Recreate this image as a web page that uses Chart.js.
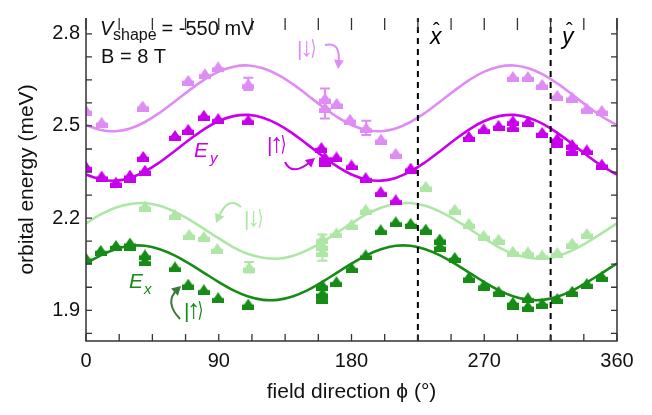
<!DOCTYPE html>
<html><head><meta charset="utf-8">
<script src="https://cdn.jsdelivr.net/npm/chart.js@4/dist/chart.umd.min.js"></script>
<style>html,body{margin:0;padding:0;background:#fff}#wrap{width:652px;height:415px}</style>
</head><body><div id="wrap"><canvas id="c" width="652" height="415"></canvas></div>
<script>
// ---------- data ----------
const xTickValues = [0, 90, 180, 270, 360];
const yTickValues = [1.9, 2.2, 2.5, 2.8];

// measured points: E_y |down> (light purple)
const eyDownPhi = [0, 10.6, 38.4, 69.3, 80.6, 89.6, 110, 162, 162, 170, 179, 190, 200, 210, 289.4, 299.6, 309.3, 319.5, 329.6, 339.5, 349.7];
const eyDownVal = [2.551, 2.512, 2.565, 2.649, 2.670, 2.692, 2.637, 2.590, 2.560, 2.574, 2.522, 2.494, 2.457, 2.411, 2.661, 2.661, 2.636, 2.600, 2.594, 2.558, 2.551];
// measured points: E_y |up> (dark purple)
const eyUpPhi = [0, 10.6, 20.3, 29.8, 29.8, 38.8, 40, 60.3, 69.3, 79.9, 89.6, 110, 159.6, 161.9, 161.9, 169.8, 180, 189.6, 199.8, 210, 220.1, 259.6, 269.6, 279.7, 289.4, 289.4, 299.6, 309.3, 319.5, 319.5, 329.6, 329.6, 339.5, 349.7];
const eyUpVal = [2.368, 2.337, 2.317, 2.340, 2.332, 2.401, 2.356, 2.469, 2.489, 2.535, 2.524, 2.520, 2.430, 2.399, 2.385, 2.399, 2.373, 2.332, 2.286, 2.260, 2.363, 2.466, 2.491, 2.502, 2.517, 2.497, 2.514, 2.479, 2.460, 2.445, 2.440, 2.420, 2.422, 2.376];
// measured points: E_x |down> (light green)
const exDownPhi = [40, 60.3, 70, 79.9, 89, 110.6, 160.3, 160.3, 160.3, 169.8, 180, 189.6, 230.3, 250, 259.6, 269.6, 279.7, 289.4, 299.6, 309.3, 319.5, 329.6, 339.5];
const exDownVal = [2.239, 2.212, 2.147, 2.140, 2.101, 2.040, 2.133, 2.111, 2.090, 2.152, 2.180, 2.229, 2.304, 2.229, 2.183, 2.144, 2.132, 2.092, 2.090, 2.080, 2.088, 2.119, 2.150];
// measured points: E_x |up> (dark green)
const exUpPhi = [0, 10, 20.3, 29.8, 29.8, 40, 40, 60.3, 69.3, 79.9, 89.6, 110, 160.3, 160.3, 160.3, 169.8, 180, 189.6, 199.8, 210, 220.1, 230.3, 239.8, 239.8, 250, 259.6, 269.6, 279.7, 289.4, 289.4, 299.6, 299.6, 309.3, 319.5, 329.6, 339.5, 349.7];
const exUpVal = [2.070, 2.095, 2.111, 2.119, 2.111, 2.080, 2.061, 2.041, 1.985, 1.967, 1.941, 1.920, 1.982, 1.956, 1.938, 1.993, 2.039, 2.080, 2.162, 2.188, 2.183, 2.164, 2.132, 2.109, 2.072, 2.008, 1.982, 1.962, 1.926, 1.920, 1.941, 1.913, 1.923, 1.938, 1.962, 1.987, 2.010];

// error bars
const errEyDownPhi = [110, 162, 190];
const errEyDownVal = [2.637, 2.573, 2.494];
const errEyDownErr = [0.020, 0.049, 0.023];
const errExDownPhi = [110.6, 160.3];
const errExDownVal = [2.040, 2.104];
const errExDownErr = [0.017, 0.043];

// fitted curves, every 10 degrees
const curvePhi = [0,10,20,30,40,50,60,70,80,90,100,110,120,130,140,150,160,170,180,190,200,210,220,230,240,250,260,270,280,290,300,310,320,330,340,350,360];
const curveEyDown = [2.503,2.487,2.483,2.492,2.513,2.543,2.579,2.616,2.650,2.677,2.693,2.697,2.688,2.667,2.637,2.601,2.564,2.530,2.503,2.487,2.483,2.492,2.513,2.543,2.579,2.616,2.650,2.677,2.693,2.697,2.688,2.667,2.637,2.601,2.564,2.530,2.503];
const curveEyUp = [2.342,2.326,2.322,2.331,2.352,2.382,2.418,2.455,2.489,2.516,2.532,2.536,2.527,2.506,2.476,2.440,2.403,2.369,2.342,2.326,2.322,2.331,2.352,2.382,2.418,2.455,2.489,2.516,2.532,2.536,2.527,2.506,2.476,2.440,2.403,2.369,2.342];
const curveExDown = [2.183,2.212,2.234,2.246,2.249,2.240,2.221,2.195,2.165,2.134,2.105,2.083,2.071,2.068,2.077,2.096,2.122,2.152,2.183,2.212,2.234,2.246,2.249,2.240,2.221,2.195,2.165,2.134,2.105,2.083,2.071,2.068,2.077,2.096,2.122,2.152,2.183];
const curveExUp = [2.052,2.079,2.099,2.110,2.110,2.099,2.079,2.052,2.022,1.992,1.965,1.945,1.934,1.934,1.945,1.965,1.992,2.022,2.052,2.079,2.099,2.110,2.110,2.099,2.079,2.052,2.022,1.992,1.965,1.945,1.934,1.934,1.945,1.965,1.992,2.022,2.052];

// special field directions (x-hat, y-hat)
const axisDirPhi = [225, 315];

// ---------- styling ----------
const C_LP = '#df8cf4', C_DP = '#c800ec', C_LG = '#aee6a6', C_DG = '#168c16';
const FONT = '"Liberation Sans", Arial, "DejaVu Sans", sans-serif';
const Y_MIN = 1.8, Y_MAX = 2.8515;

function makeHouse(color){
  const c = document.createElement('canvas'); c.width = 12; c.height = 11;
  const g = c.getContext('2d'); g.fillStyle = color;
  g.beginPath(); g.moveTo(6,0); g.lineTo(10.3,6.2); g.lineTo(1.7,6.2); g.closePath(); g.fill();
  g.fillRect(0,5.8,12,5.2);
  return c;
}
const pts = (xs, ys) => xs.map((x,i)=>({x:x, y:ys[i]}));

function scatterDS(xs, ys, color){
  return {type:'scatter', data: pts(xs,ys), pointStyle: makeHouse(color), pointRadius: 6, showLine:false, borderColor: color, backgroundColor: color};
}
function curveDS(ys, color){
  return {type:'line', data: pts(curvePhi, ys), borderColor: color, borderWidth: 2.6, pointRadius: 0, tension: 0.4, fill:false};
}
function dashDS(phi){
  return {type:'line', data:[{x:phi,y:Y_MIN},{x:phi,y:Y_MAX}], borderColor:'#000', borderWidth:2, borderDash:[6,5], pointRadius:0, fill:false};
}

const frameAndDecor = {
  id:'frameAndDecor',
  afterDatasetsDraw(chart){
    const ctx = chart.ctx, xs = chart.scales.x, ys = chart.scales.y, a = chart.chartArea;
    ctx.save();
    // error bars
    function ebars(phis, vals, errs, color){
      ctx.strokeStyle = color; ctx.lineWidth = 2;
      phis.forEach((p,i)=>{
        const x = xs.getPixelForValue(p), y1 = ys.getPixelForValue(vals[i]-errs[i]), y2 = ys.getPixelForValue(vals[i]+errs[i]);
        ctx.beginPath(); ctx.moveTo(x,y1); ctx.lineTo(x,y2);
        ctx.moveTo(x-5,y1); ctx.lineTo(x+5,y1); ctx.moveTo(x-5,y2); ctx.lineTo(x+5,y2); ctx.stroke();
      });
    }
    ebars(errEyDownPhi, errEyDownVal, errEyDownErr, C_LP);
    ebars(errExDownPhi, errExDownVal, errExDownErr, C_LG);

    // frame
    ctx.strokeStyle = '#333'; ctx.lineWidth = 1.5;
    ctx.beginPath();
    ctx.moveTo(a.left, a.top); ctx.lineTo(a.left, a.bottom); ctx.lineTo(a.right, a.bottom); ctx.lineTo(a.right, a.top);
    ctx.stroke();
    // ticks
    ctx.lineWidth = 1.3;
    ctx.beginPath();
    for (let p = 0; p <= 360.01; p += 22.5){
      const x = xs.getPixelForValue(p);
      ctx.moveTo(x, a.bottom); ctx.lineTo(x, a.bottom - 7);
      ctx.moveTo(x, a.top); ctx.lineTo(x, a.top + 12);
    }
    for (let v = 1.825; v <= 2.801; v += 0.075){
      const y = ys.getPixelForValue(v);
      ctx.moveTo(a.left, y); ctx.lineTo(a.left + 6, y);
      ctx.moveTo(a.right, y); ctx.lineTo(a.right - 6, y);
    }
    ctx.stroke();

    // arrows
    function arrow(x0,y0,cx,cy,x1,y1,color){
      ctx.strokeStyle = color; ctx.fillStyle = color; ctx.lineWidth = 2;
      const ang = Math.atan2(y1-cy, x1-cx);
      const L = 9, W = 5;
      const bx = x1 - L*Math.cos(ang)*0.6, by = y1 - L*Math.sin(ang)*0.6;
      ctx.beginPath(); ctx.moveTo(x0,y0); ctx.quadraticCurveTo(cx,cy,bx,by); ctx.stroke();
      ctx.beginPath();
      ctx.moveTo(x1,y1);
      ctx.lineTo(x1 - L*Math.cos(ang) + W*Math.sin(ang), y1 - L*Math.sin(ang) - W*Math.cos(ang));
      ctx.lineTo(x1 - L*Math.cos(ang) - W*Math.sin(ang), y1 - L*Math.sin(ang) + W*Math.cos(ang));
      ctx.closePath(); ctx.fill();
    }
    arrow(325,45, 341,41, 338,69, C_LP);
    arrow(285,162, 292,177, 315,158, C_DP);
    arrow(241,207, 228,195, 216,223, C_LG);
    arrow(180,319, 164,302, 181,286, '#3a7a3a');

    // ket labels |arrow>
    function ket(x, yb, ch, color){
      ctx.fillStyle = color; ctx.textAlign = 'left';
      ctx.font = '21px ' + FONT; ctx.fillText('|', x, yb + 1);
      ctx.font = '27px "Liberation Sans"';
      const w = ctx.measureText(ch).width;
      ctx.fillText(ch, x + 3, yb + 1);
      ctx.save(); ctx.translate(x + 3 + w*0.78, yb); ctx.scale(0.8, 1.1);
      ctx.font = '19px "DejaVu Sans"'; ctx.fillText('\u27E9', 0, 0);
      ctx.restore();
    }

    // texts
    ctx.textBaseline = 'alphabetic'; ctx.textAlign = 'left';
    ctx.fillStyle = '#111';
    ctx.font = 'italic 20px ' + FONT; ctx.fillText('V', 100, 35);
    ctx.font = '16px ' + FONT; ctx.fillText('shape', 113, 40);
    ctx.font = '20px ' + FONT; ctx.fillText(' = -550 mV', 156, 35);
    ctx.fillText('B = 8 T', 101, 63);

    ket(297, 55, '\u2193', C_LP);
    ket(267, 151, '\u2191', C_DP);
    ket(244, 225, '\u2193', C_LG);
    ket(184, 317, '\u2191', C_DG);

    ctx.fillStyle = C_DP;
    ctx.font = 'italic 21px ' + FONT; ctx.fillText('E', 194, 157);
    ctx.font = 'italic 15px ' + FONT; ctx.fillText('y', 210, 163);
    ctx.fillStyle = C_DG;
    ctx.font = 'italic 21px ' + FONT; ctx.fillText('E', 129, 288);
    ctx.font = 'italic 15px ' + FONT; ctx.fillText('x', 144, 294);

    ctx.fillStyle = '#000';
    ctx.font = 'italic 23px ' + FONT;
    ctx.fillText('x', 430, 44); ctx.fillText('y', 562, 44);
    ctx.font = '20px ' + FONT;
    ctx.fillText('\u02C6', 433, 37); ctx.fillText('\u02C6', 566, 37);

    // axis titles
    ctx.fillStyle = '#111';
    ctx.font = '21px ' + FONT; ctx.textAlign = 'center';
    ctx.fillText('field direction \u03D5 (\u00B0)', (a.left + a.right)/2, 398);
    ctx.save();
    ctx.translate(33, (a.top + a.bottom)/2);
    ctx.rotate(-Math.PI/2);
    ctx.fillText('orbital energy (meV)', 0, 0);
    ctx.restore();
    ctx.restore();
  }
};

new Chart(document.getElementById('c'), {
  data: {
    datasets: [
      dashDS(axisDirPhi[0]), dashDS(axisDirPhi[1]),
      scatterDS(eyDownPhi, eyDownVal, C_LP),
      scatterDS(eyUpPhi, eyUpVal, C_DP),
      scatterDS(exDownPhi, exDownVal, C_LG),
      scatterDS(exUpPhi, exUpVal, C_DG),
      curveDS(curveEyDown, C_LP),
      curveDS(curveEyUp, C_DP),
      curveDS(curveExDown, C_LG),
      curveDS(curveExUp, C_DG)
    ]
  },
  options: {
    responsive: false, animation: false, devicePixelRatio: 1,
    layout: {padding: {left: 0, right: 35, top: 0, bottom: 0}},
    plugins: {legend: {display:false}, tooltip: {enabled:false}},
    scales: {
      x: {
        type: 'linear', min: 0, max: 360,
        afterFit: s => { s.height = 74; },
        afterBuildTicks: s => { s.ticks = xTickValues.map(v => ({value: v})); },
        grid: {display:false, drawTicks:false}, border: {display:false},
        ticks: {font: {size: 20, family: FONT}, color: '#111', padding: 8, maxRotation: 0, autoSkip: false}
      },
      y: {
        type: 'linear', min: Y_MIN, max: Y_MAX,
        afterFit: s => { s.width = 86; },
        afterBuildTicks: s => { s.ticks = yTickValues.map(v => ({value: v})); },
        grid: {display:false, drawTicks:false}, border: {display:false},
        ticks: {font: {size: 20, family: FONT}, color: '#111', padding: 6, callback: v => v.toFixed(1), autoSkip:false}
      }
    }
  },
  plugins: [frameAndDecor]
});
</script></body></html>
